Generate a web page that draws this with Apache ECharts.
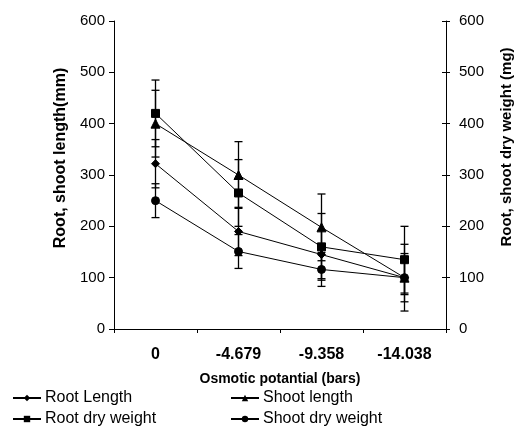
<!DOCTYPE html>
<html>
<head>
<meta charset="utf-8">
<script src="https://cdn.jsdelivr.net/npm/echarts@6/dist/echarts.min.js"></script>
<style>
  html, body { margin: 0; padding: 0; background: #fff; }
  #chart { width: 514px; height: 428px; }
</style>
</head>
<body>
<div id="chart"></div>
<script>
  var categories = ['0', '-4.679', '-9.358', '-14.038']
  var rootLength = [322, 190, 145, 100]
  var shootLength = [400, 300, 198, 100]
  var rootDryWeight = [420, 265, 160, 135]
  var shootDryWeight = [250, 151, 116, 100]
  // error bar half-widths (read from the caps)
  var rootLengthErr = [47, 47, 47, 47]
  var shootLengthErr = [65, 65, 65, 65]
  var rootDryErr = [65, 65, 65, 65]
  var shootDryErr = [33, 33, 33, 33]

  var font = 'Liberation Sans, Arial, sans-serif'

  function errData(vals, errs) {
    return vals.map(function (v, i) { return [i, v - errs[i], v + errs[i]] })
  }

  function errSeries(vals, errs, yIdx) {
    return {
      type: 'custom',
      yAxisIndex: yIdx,
      silent: true,
      z: 1,
      data: errData(vals, errs),
      renderItem: function (params, api) {
        var lo = api.coord([api.value(0), api.value(1)])
        var hi = api.coord([api.value(0), api.value(2)])
        var w = 4
        var st = { stroke: '#000', lineWidth: 1.3 }
        return {
          type: 'group',
          children: [
            { type: 'line', shape: { x1: hi[0], y1: hi[1], x2: lo[0], y2: lo[1] }, style: st },
            { type: 'line', shape: { x1: hi[0] - w, y1: hi[1], x2: hi[0] + w, y2: hi[1] }, style: st },
            { type: 'line', shape: { x1: lo[0] - w, y1: lo[1], x2: lo[0] + w, y2: lo[1] }, style: st }
          ]
        }
      }
    }
  }

  function lineSeries(name, vals, symbol, size, yIdx) {
    return {
      name: name,
      type: 'line',
      yAxisIndex: yIdx,
      data: vals,
      symbol: symbol,
      symbolSize: size,
      showAllSymbol: true,
      z: 3,
      itemStyle: { color: '#000', borderColor: '#000' },
      lineStyle: { color: '#000', width: 1 },
      animation: false
    }
  }

  function legendAt(name, left, top) {
    return {
      left: left,
      top: top,
      padding: 0,
      itemWidth: 28,
      itemHeight: 8,
      itemGap: 0,
      textStyle: { color: '#000', fontSize: 16, fontFamily: font, padding: [0, 0, 0, -1] },
      data: [name]
    }
  }

  var chart = echarts.init(document.getElementById('chart'))
  var yAxisBase = {
    type: 'value',
    min: 0,
    max: 600,
    interval: 100,
    nameLocation: 'middle',
    nameRotate: 90,
    axisLine: { show: true, lineStyle: { color: '#000', width: 1 } },
    axisTick: { show: true, length: 5, lineStyle: { color: '#000' } },
    axisLabel: { color: '#000', fontSize: 15, fontFamily: font, margin: 9 },
    splitLine: { show: false }
  }

  chart.setOption({
    animation: false,
    textStyle: { fontFamily: font },
    grid: { left: 114, right: 68, top: 21, bottom: 99, containLabel: false, outerBoundsMode: 'none' },
    legend: [
      legendAt('Root Length', 12, 390),
      legendAt('Shoot length', 230, 390),
      legendAt('Root dry weight', 12, 411),
      legendAt('Shoot dry weight', 230, 411)
    ],
    xAxis: {
      type: 'category',
      data: categories,
      name: 'Osmotic potantial (bars)',
      nameLocation: 'middle',
      nameGap: 43,
      nameTextStyle: { color: '#000', fontWeight: 'bold', fontSize: 14, fontFamily: font },
      axisLine: { lineStyle: { color: '#000', width: 1 } },
      axisTick: { show: true, length: 4, lineStyle: { color: '#000' } },
      axisLabel: { color: '#000', fontWeight: 'bold', fontSize: 16, fontFamily: font, margin: 18 }
    },
    yAxis: [
      Object.assign({}, yAxisBase, {
        position: 'left',
        name: 'Root, shoot length(mm)',
        nameGap: 44,
        nameTextStyle: { color: '#000', fontWeight: 'bold', fontSize: 16, fontFamily: font, padding: [0, 0, 0, 34] }
      }),
      Object.assign({}, yAxisBase, {
        position: 'right',
        name: 'Root, shoot dry weight (mg)',
        nameGap: 53,
        nameTextStyle: { color: '#000', fontWeight: 'bold', fontSize: 15, fontFamily: font, padding: [0, 0, 0, 56] },
        axisTick: { show: true, length: 4, lineStyle: { color: '#000' } },
        axisLabel: { color: '#000', fontSize: 15, fontFamily: font, margin: 13 }
      }),
      // inner half of the right axis's cross ticks
      {
        type: 'value',
        position: 'right',
        min: 0,
        max: 600,
        interval: 100,
        axisLine: { show: false },
        axisTick: { show: true, inside: true, length: 4, lineStyle: { color: '#000' } },
        axisLabel: { show: false },
        splitLine: { show: false }
      }
    ],
    series: [
      errSeries(rootLength, rootLengthErr, 0),
      errSeries(shootLength, shootLengthErr, 0),
      errSeries(rootDryWeight, rootDryErr, 1),
      errSeries(shootDryWeight, shootDryErr, 1),
      lineSeries('Root Length', rootLength, 'diamond', 8, 0),
      lineSeries('Shoot length', shootLength, 'triangle', 9, 0),
      lineSeries('Root dry weight', rootDryWeight, 'rect', 8, 1),
      lineSeries('Shoot dry weight', shootDryWeight, 'circle', 8, 1)
    ]
  })
</script>
</body>
</html>
